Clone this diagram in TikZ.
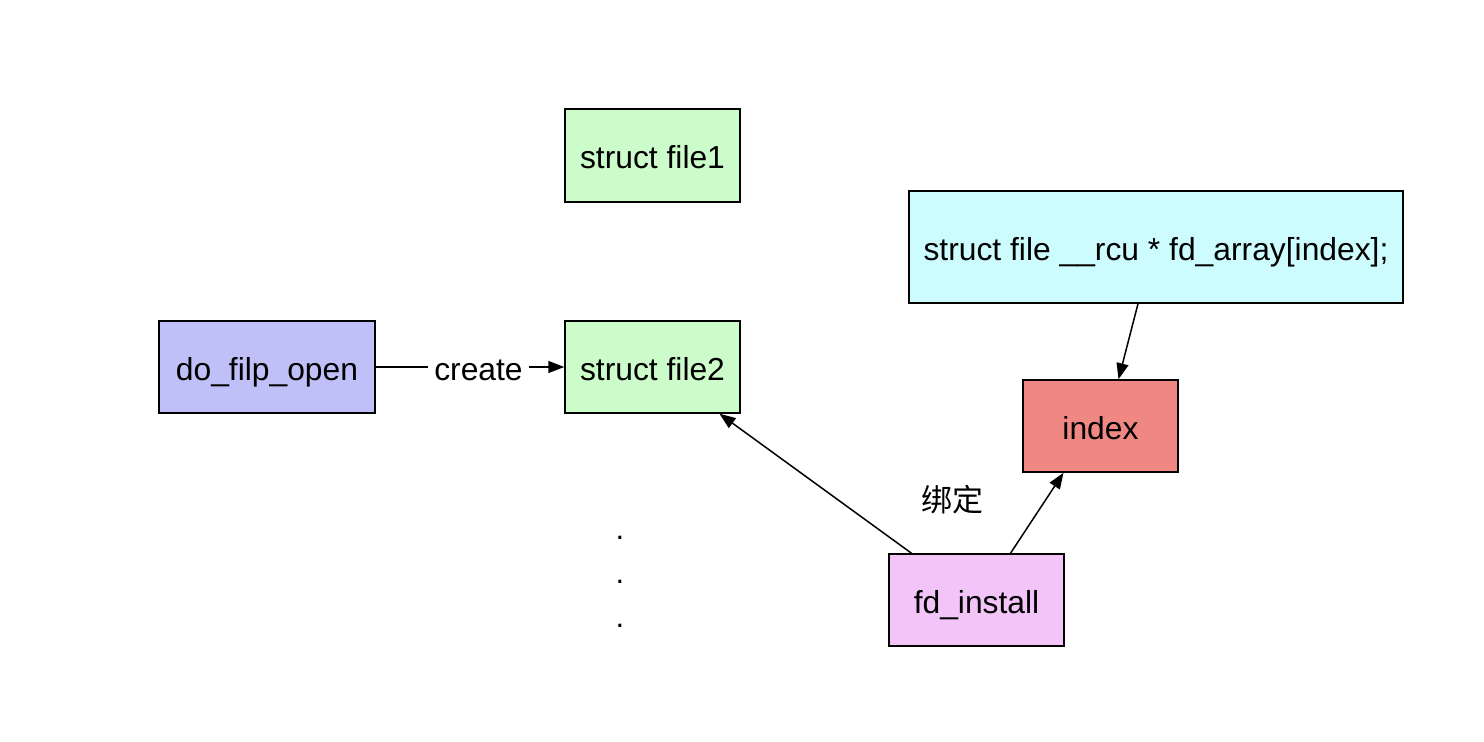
\documentclass[tikz,border=0pt]{standalone}
\usepackage{fontspec}
\setmainfont{Liberation Sans}
\newfontfamily\cjk{Noto Sans CJK SC}
\usetikzlibrary{arrows.meta}
\definecolor{cgreen}{HTML}{CCFCCA}
\definecolor{cblue}{HTML}{C0C0F8}
\definecolor{ccyan}{HTML}{CCFCFD}
\definecolor{cred}{HTML}{EF8882}
\definecolor{cpink}{HTML}{F3C4F8}
\tikzset{
  txt/.style={font=\fontsize{31.8}{36}\selectfont, text height=26pt, text depth=0pt},
  box/.style={txt, draw=black, line width=1.5pt, inner sep=0pt, text=black},
  conn/.style={line width=1.5pt, -{Triangle[length=16pt,width=12pt]}},
}
\begin{document}
\begin{tikzpicture}[x=1pt,y=-1pt]
\path[use as bounding box, fill=white] (0,0) rectangle (1484,742);
\node[box, fill=cgreen, minimum width=175pt, minimum height=93pt] (sf1) at (652.5,155.5) {struct file1};
\node[box, fill=cgreen, minimum width=175pt, minimum height=92pt] (sf2) at (652.5,367) {struct file2};
\node[box, fill=cblue, minimum width=216pt, minimum height=92pt] (dfo) at (267,367) {do\_filp\_open};
\node[box, fill=ccyan, minimum width=494pt, minimum height=112pt] (fda) at (1156,247) {struct file \_\_rcu * fd\_array[index];};
\node[box, fill=cred, minimum width=155pt, minimum height=92pt] (idx) at (1100.5,426) {index};
\node[box, fill=cpink, minimum width=175pt, minimum height=92pt] (fdi) at (976.5,600) {fd\_install};
\draw[conn] (dfo) -- node[txt, pos=0.545, fill=white, inner xsep=6pt, inner ysep=2pt] (lbl) {create} (sf2);
\draw[conn] ([xshift=-18pt]fda.south) -- ([xshift=18pt]idx.north);
\draw[conn] ([xshift=34pt]fdi.north) -- ([xshift=-37pt]idx.south);
\draw[conn] ([xshift=-65pt]fdi.north) -- ([xshift=67pt]sf2.south);
\node[font=\cjk\fontsize{31}{36}\selectfont] (bd) at (952,500) {绑定};
\node[anchor=base, font=\fontsize{31}{36}\selectfont] (d1) at (620,539) {.};
\node[anchor=base, font=\fontsize{31}{36}\selectfont] (d2) at (620,583) {.};
\node[anchor=base, font=\fontsize{31}{36}\selectfont] (d3) at (620,627) {.};
\end{tikzpicture}
\end{document}
